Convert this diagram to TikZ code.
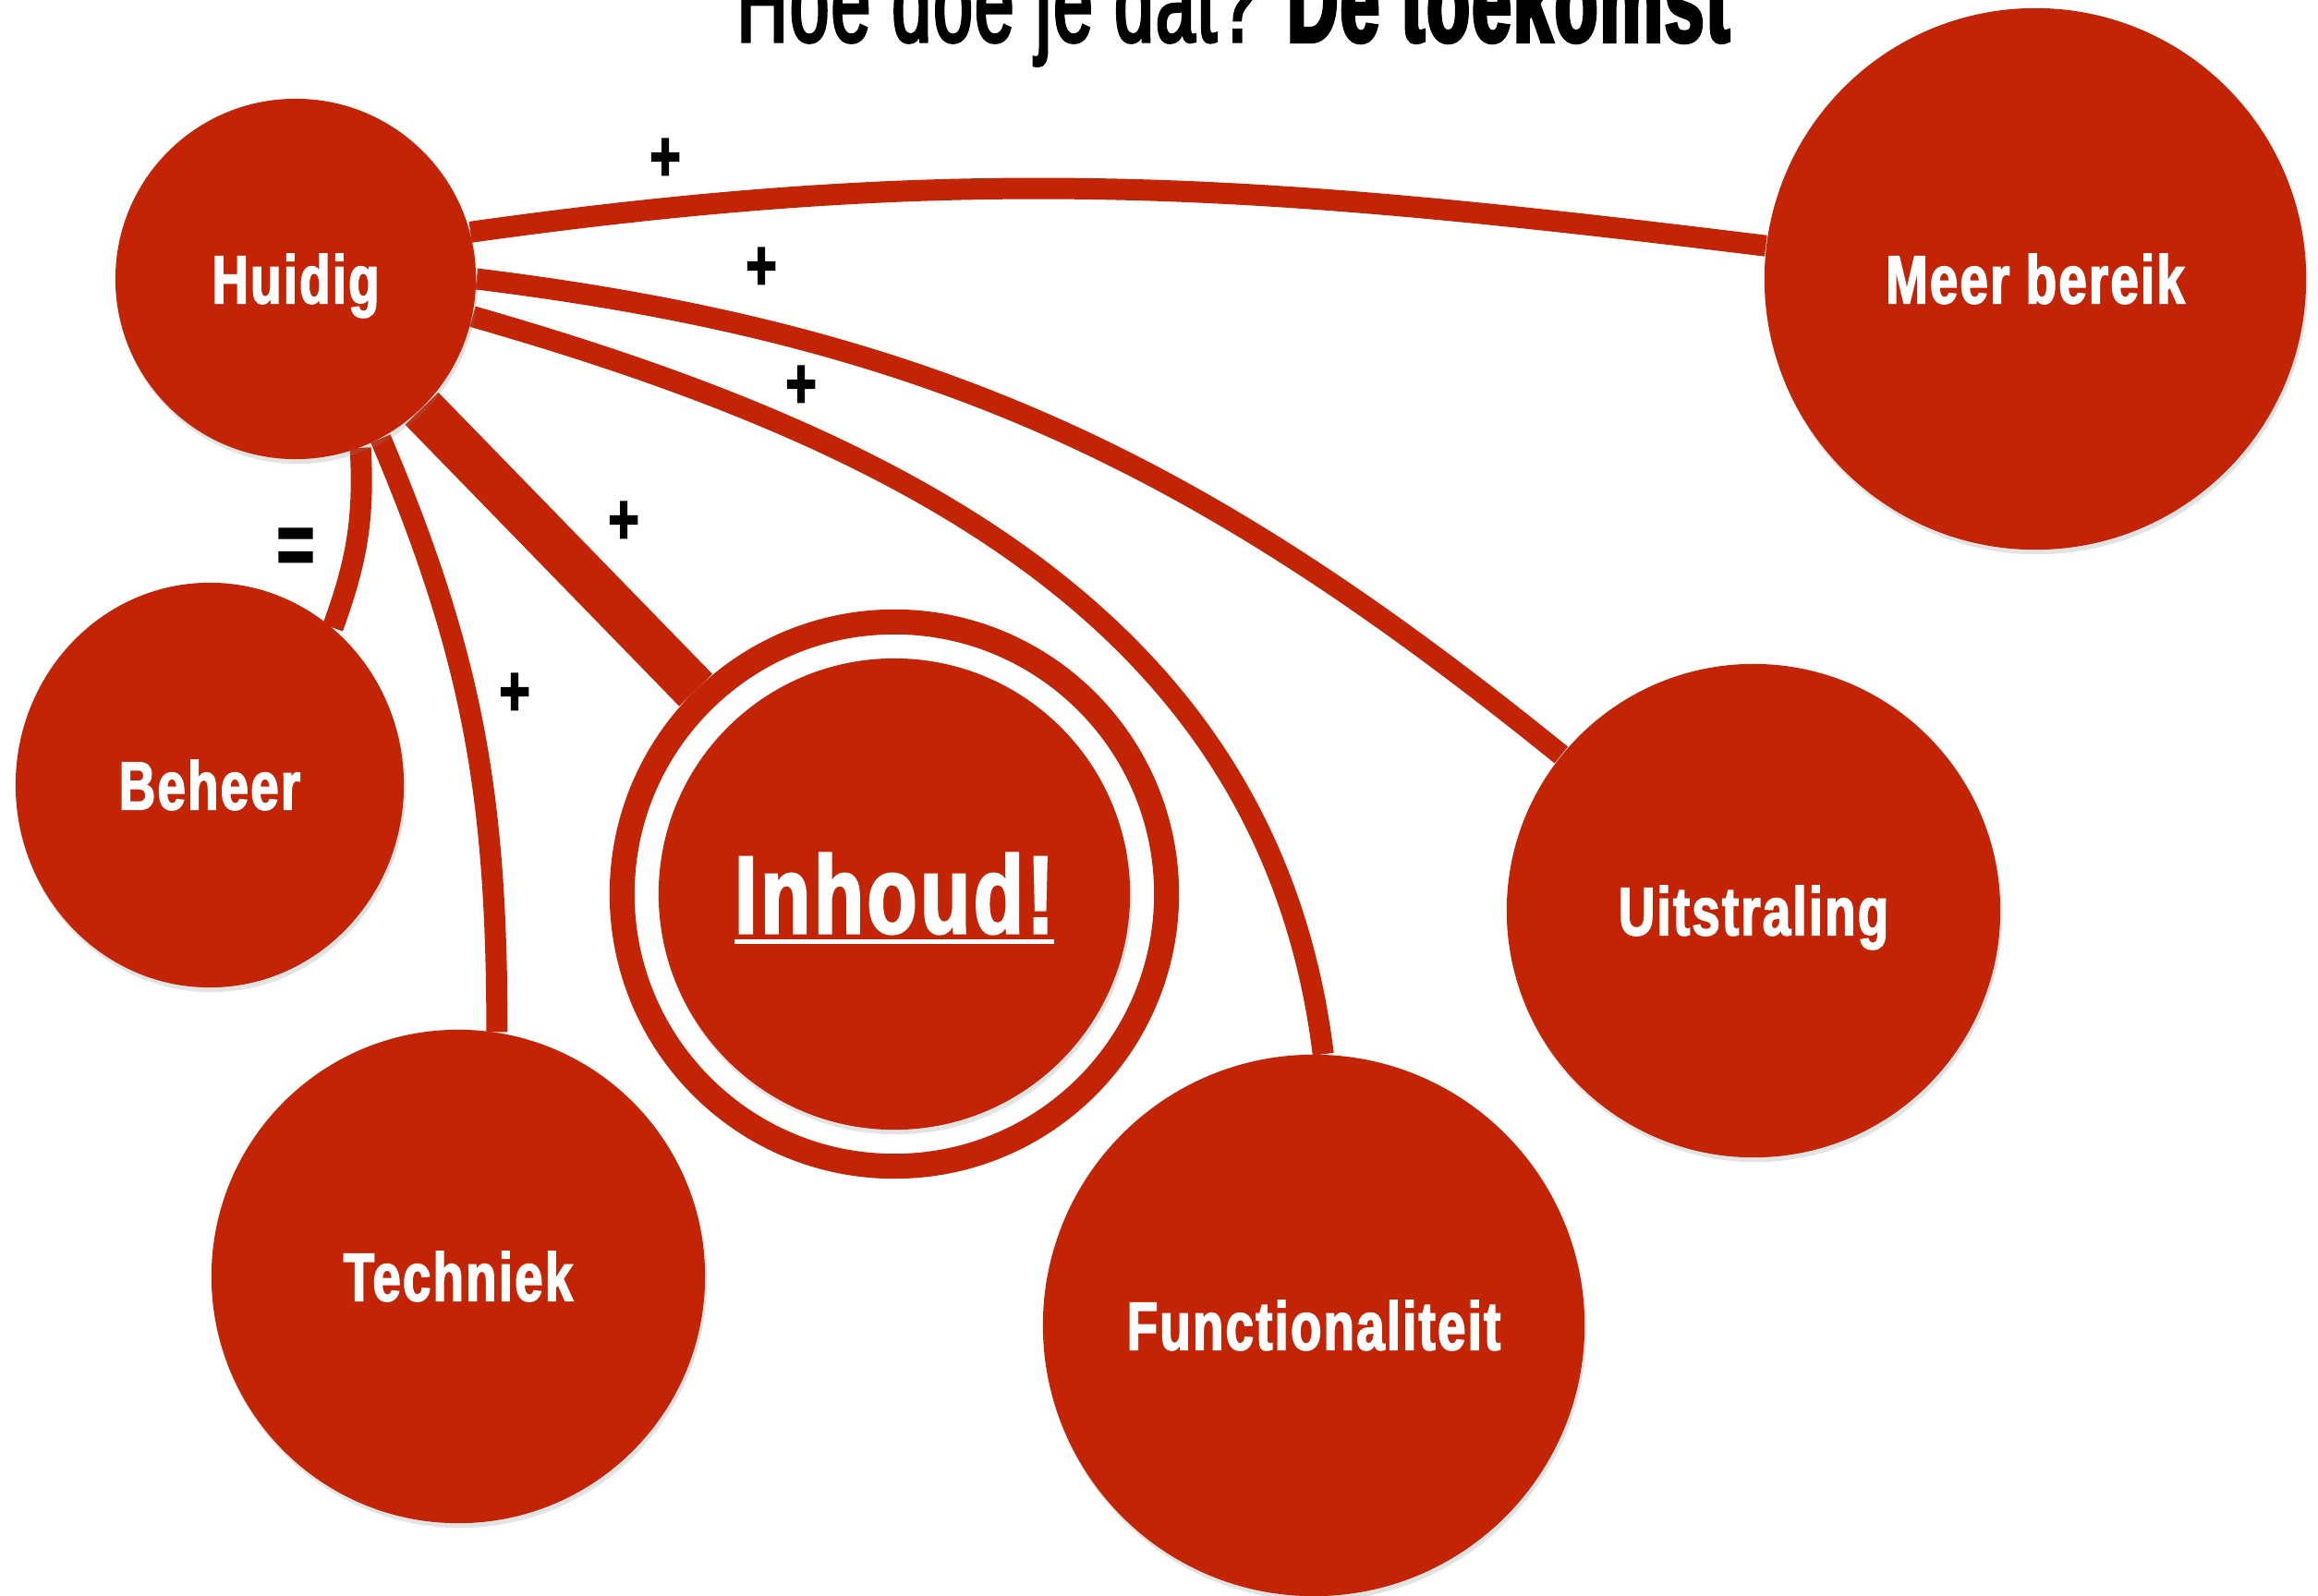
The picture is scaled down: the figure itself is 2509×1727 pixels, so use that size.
\documentclass[tikz,border=0pt]{standalone}
\usepackage{fontspec}
\usepackage{tikz}
\usetikzlibrary{shapes.geometric, shadows, backgrounds}
\newfontfamily\smalfont[FakeStretch=0.74, LetterSpace=3, BoldFeatures={FakeBold=2.2}]{Liberation Sans}
\newfontfamily\kopfont[FakeStretch=0.6, LetterSpace=2, FakeBold=2.6, BoldFeatures={FakeBold=3.2}]{Liberation Sans}
\definecolor{myred}{RGB}{196, 36, 6}
\newcommand{\onderstreept}[1]{\setbox0\hbox{#1}\vtop{\copy0\kern1.7pt\hrule height1.4pt width\wd0}}

\tikzset{
  bol/.style={circle, fill=myred, text=white, font=\smalfont\bfseries\fontsize{21}{25}\selectfont,
    text height=15pt, text depth=0pt,
    drop shadow={opacity=0.22, shadow xshift=0.02cm, shadow yshift=-0.05cm}},
  lijn/.style={draw=myred, line width=0.23cm},
  teken/.style={font=\smalfont\bfseries\fontsize{22}{25}\selectfont, text=black, inner sep=0pt},
}

\begin{document}
\begin{tikzpicture}[x=0.01cm, y=0.01cm]
    \useasboundingbox (0,0) rectangle (2509,-1727);

    % titel
    \node[anchor=base west, inner sep=0pt, font=\kopfont\fontsize{36}{40}\selectfont] (titel) at (797,-45) {Hoe doe je dat? {\bfseries De toekomst}};

    % bollen
    \node[bol, minimum size=3.9cm] (huidig) at (320,-302) {Huidig};
    \node[bol, ellipse, minimum width=4.2cm, minimum height=4.38cm] (beheer) at (227,-850) {Beheer};
    \node[bol, minimum size=5.34cm] (techniek) at (496,-1382) {Techniek};
    \node[bol, minimum size=5.86cm] (functie) at (1422,-1435) {Functionaliteit};
    \node[bol, minimum size=5.34cm] (uitstraling) at (1898,-986) {Uitstraling};
    \node[bol, minimum size=5.86cm] (bereik) at (2203,-302) {Meer bereik};

    % inhoud met ring
    \node[circle, draw=myred, line width=0.27cm, fill=white, minimum size=5.89cm,
      drop shadow={opacity=0.22, shadow xshift=0.02cm, shadow yshift=-0.05cm}] (ring) at (968,-968) {};
    \node[bol, minimum size=5.1cm, font=\smalfont\bfseries\fontsize{34}{40}\selectfont, text height=24pt] (inhoud) at (968,-968) {\onderstreept{Inhoud!}};

    % verbindingen
    \begin{scope}[on background layer]
        \draw[lijn] (huidig.15) to[out=8, in=173] (bereik.173);
        \draw[lijn] (huidig.0) to[out=-7, in=141] (uitstraling.141);
        \draw[lijn] (huidig.-12) to[out=-16, in=97] (functie.88);
        \draw[draw=myred, line width=0.5cm] (huidig) -- (ring);
        \draw[lijn] (huidig.-62) to[out=-67, in=90] (techniek.81);
        \draw[lijn] (huidig.-69) to[out=-87, in=70] (beheer.52);
    \end{scope}

    % tekens
    \node[teken] (plus1) at (720,-173) {+};
    \node[teken] (plus2) at (824,-291) {+};
    \node[teken] (plus3) at (867,-419) {+};
    \node[teken] (plus4) at (675,-566) {+};
    \node[teken] (plus5) at (557,-752) {+};
    \node[teken, font=\smalfont\bfseries\fontsize{27}{30}\selectfont] (gelijk) at (320,-597) {=};
\end{tikzpicture}
\end{document}
